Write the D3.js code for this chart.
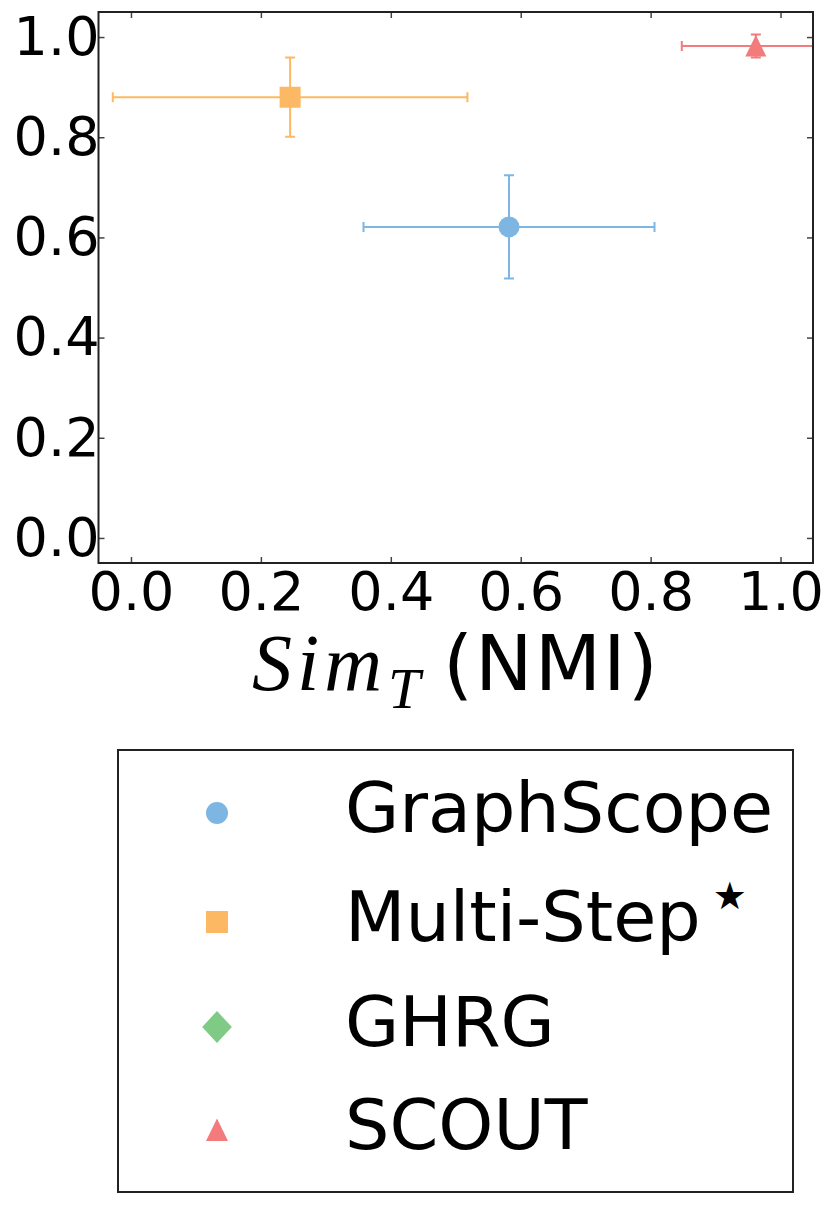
<!DOCTYPE html>
<html>
<head>
<meta charset="utf-8">
<script src="https://cdn.jsdelivr.net/npm/d3@7"></script>
<style>
  body { margin: 0; background: #fff; }
  svg { display: block; font-family: "DejaVu Sans", sans-serif; }
</style>
</head>
<body>
<div id="plot"></div>
<script>
// data
const methods = ["GraphScope", "Multi-Step", "GHRG", "SCOUT"];
const simT    = [0.582, 0.245, null, 0.962];   // x value
const simTErr = [0.224, 0.273, null, 0.114];
const simV    = [0.621, 0.880, null, 0.982];   // y value
const simVErr = [0.103, 0.079, null, 0.023];
const xTicks = [0.0, 0.2, 0.4, 0.6, 0.8, 1.0];
const yTicks = [0.0, 0.2, 0.4, 0.6, 0.8, 1.0];

const colors  = ["#7eb6e3", "#fdb863", "#7fca84", "#f47b7b"];
const shapes  = ["circle", "square", "diamond", "triangle"];

// frame of the axes
const W = 830, H = 1205;
const frame = { left: 98.5, right: 813, top: 12, bottom: 563 };

const svg = d3.select("#plot").append("svg")
  .attr("width", W)
  .attr("height", H);

const x = d3.scaleLinear().domain([-0.05, 1.05]).range([frame.left, frame.right]);
const y = d3.scaleLinear().domain([-0.05, 1.05]).range([frame.bottom, frame.top]);

// marker shapes, s = nominal size in px
function markerPath(type, s) {
  const h = s / 2;
  const p = d3.path();
  if (type === "circle") {
    p.arc(0, 0, h, 0, 2 * Math.PI);
  } else if (type === "square") {
    p.rect(-h, -h, s, s);
  } else if (type === "diamond") {
    p.moveTo(0, -h * 1.45); p.lineTo(h * 1.35, 0); p.lineTo(0, h * 1.45); p.lineTo(-h * 1.35, 0);
  } else {
    p.moveTo(0, -h * 1.05); p.lineTo(h, h); p.lineTo(-h, h);
  }
  p.closePath();
  return p.toString();
}

svg.append("clipPath").attr("id", "clip")
  .append("rect")
    .attr("x", frame.left).attr("y", frame.top)
    .attr("width", frame.right - frame.left).attr("height", frame.bottom - frame.top);

const pts = methods.map((m, i) => ({
  name: m, x: simT[i], xe: simTErr[i], y: simV[i], ye: simVErr[i],
  color: colors[i], shape: shapes[i]
})).filter(d => d.x != null);

const plot = svg.append("g").attr("clip-path", "url(#clip)");
const cap = 5;

const g = plot.selectAll(".pt")
  .data(pts)
  .enter().append("g")
    .attr("class", "pt")
    .attr("stroke", d => d.color)
    .attr("stroke-width", 2);

// horizontal error bar
g.append("line")
  .attr("x1", d => x(d.x - d.xe)).attr("x2", d => x(d.x + d.xe))
  .attr("y1", d => y(d.y)).attr("y2", d => y(d.y));
g.append("line")
  .attr("x1", d => x(d.x - d.xe)).attr("x2", d => x(d.x - d.xe))
  .attr("y1", d => y(d.y) - cap).attr("y2", d => y(d.y) + cap);
g.append("line")
  .attr("x1", d => x(d.x + d.xe)).attr("x2", d => x(d.x + d.xe))
  .attr("y1", d => y(d.y) - cap).attr("y2", d => y(d.y) + cap);
// vertical error bar
g.append("line")
  .attr("x1", d => x(d.x)).attr("x2", d => x(d.x))
  .attr("y1", d => y(d.y - d.ye)).attr("y2", d => y(d.y + d.ye));
g.append("line")
  .attr("x1", d => x(d.x) - cap).attr("x2", d => x(d.x) + cap)
  .attr("y1", d => y(d.y - d.ye)).attr("y2", d => y(d.y - d.ye));
g.append("line")
  .attr("x1", d => x(d.x) - cap).attr("x2", d => x(d.x) + cap)
  .attr("y1", d => y(d.y + d.ye)).attr("y2", d => y(d.y + d.ye));

g.append("path")
  .attr("transform", d => `translate(${x(d.x)},${y(d.y)})`)
  .attr("d", d => markerPath(d.shape, 21))
  .attr("fill", d => d.color)
  .attr("stroke", "none");

// axes: ticks inside, on all four sides
const fmt = d3.format(".1f");
const tickLen = 6;

svg.append("g")
  .attr("transform", `translate(0,${frame.bottom})`)
  .call(d3.axisBottom(x).tickValues(xTicks).tickFormat(fmt)
    .tickSizeInner(-tickLen).tickSizeOuter(0).tickPadding(9));
svg.append("g")
  .attr("transform", `translate(0,${frame.top})`)
  .call(d3.axisTop(x).tickValues(xTicks).tickFormat("")
    .tickSizeInner(-tickLen).tickSizeOuter(0));

svg.append("g")
  .attr("transform", `translate(${frame.left},0)`)
  .call(d3.axisLeft(y).tickValues(yTicks).tickFormat(fmt)
    .tickSizeInner(-tickLen).tickSizeOuter(0).tickPadding(-1));
svg.append("g")
  .attr("transform", `translate(${frame.right},0)`)
  .call(d3.axisRight(y).tickValues(yTicks).tickFormat("")
    .tickSizeInner(-tickLen).tickSizeOuter(0));

svg.selectAll(".domain").remove();
svg.selectAll(".tick line").attr("stroke", "#444").attr("stroke-width", 1.5);
svg.selectAll(".tick text")
  .attr("font-family", "DejaVu Sans")
  .attr("font-size", 54)
  .attr("fill", "#000");

// frame
svg.append("rect")
  .attr("x", frame.left).attr("y", frame.top)
  .attr("width", frame.right - frame.left).attr("height", frame.bottom - frame.top)
  .attr("fill", "none")
  .attr("stroke", "#222")
  .attr("stroke-width", 2);

// x label: Sim_T (NMI)
const xl = svg.append("text")
  .attr("y", 690)
  .attr("fill", "#000");
xl.append("tspan")
  .attr("x", 252)
  .attr("font-family", "Liberation Serif").attr("font-style", "italic")
  .attr("font-size", 80).attr("letter-spacing", 5)
  .text("Sim");
xl.append("tspan")
  .attr("x", 388).attr("dy", 18)
  .attr("font-family", "Liberation Serif").attr("font-style", "italic")
  .attr("font-size", 58)
  .text("T");
xl.append("tspan")
  .attr("x", 443).attr("dy", -18)
  .attr("font-family", "DejaVu Sans")
  .attr("font-size", 77).attr("letter-spacing", 2)
  .text("(NMI)");

// legend
const legX = 118, legY = 750, legW = 675, legH = 442;
const leg = svg.append("g");
leg.append("rect")
  .attr("x", legX).attr("y", legY)
  .attr("width", legW).attr("height", legH)
  .attr("fill", "#fff")
  .attr("stroke", "#222")
  .attr("stroke-width", 2);

const rowBase = [832, 941, 1046, 1149];
const rows = leg.selectAll(".row")
  .data(methods)
  .enter().append("g")
    .attr("class", "row");

rows.append("path")
  .attr("transform", (d, i) => `translate(217,${rowBase[i] - 19})`)
  .attr("d", (d, i) => markerPath(shapes[i], 22))
  .attr("fill", (d, i) => colors[i]);

const lt = rows.append("text")
  .attr("x", 345)
  .attr("y", (d, i) => rowBase[i])
  .attr("font-size", 70)
  .attr("fill", "#000")
  .text(d => d);
// the star after Multi-Step
lt.filter(d => d === "Multi-Step")
  .append("tspan")
    .attr("font-size", 38)
    .attr("dx", 12)
    .attr("dy", -32)
    .text("★");
</script>
</body>
</html>
